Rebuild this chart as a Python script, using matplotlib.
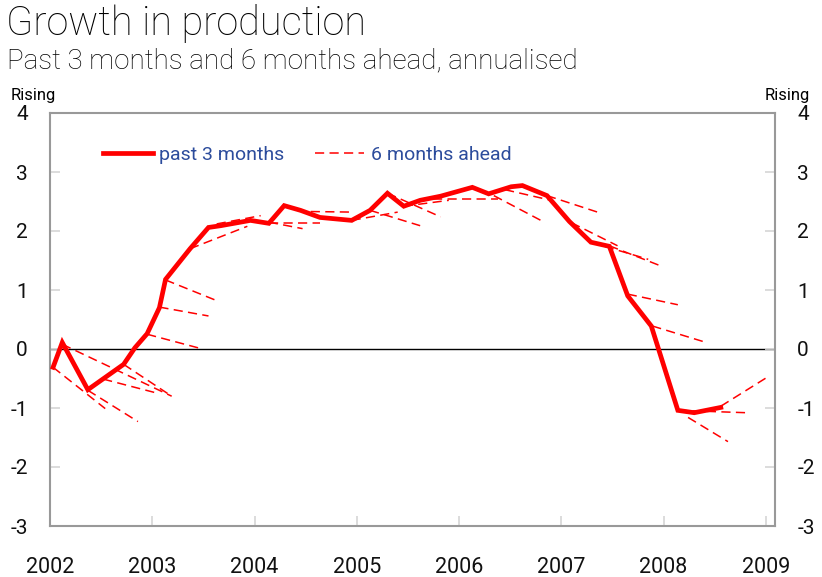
import matplotlib

matplotlib.use("Agg")
import matplotlib.pyplot as plt
from matplotlib.lines import Line2D

# past 3 months, annualised
PAST_YEAR = [
    2002.03, 2002.12, 2002.37, 2002.72, 2002.83, 2002.95, 2003.07, 2003.13,
    2003.37, 2003.55, 2003.67, 2003.96, 2004.14, 2004.29, 2004.45, 2004.64,
    2004.95, 2005.13, 2005.30, 2005.46, 2005.62, 2005.82, 2006.13, 2006.29,
    2006.51, 2006.62, 2006.86, 2007.08, 2007.29, 2007.47, 2007.65, 2007.88,
    2008.14, 2008.30, 2008.56,
]
PAST_VALUE = [
    -0.31, 0.11, -0.69, -0.26, 0.02, 0.26, 0.70, 1.18,
    1.70, 2.06, 2.09, 2.18, 2.13, 2.43, 2.35, 2.23,
    2.18, 2.35, 2.64, 2.42, 2.52, 2.59, 2.74, 2.63,
    2.75, 2.77, 2.60, 2.16, 1.81, 1.74, 0.90, 0.39,
    -1.04, -1.08, -0.99,
]

# 6 months ahead: one dashed segment per forecast, start -> end
AHEAD_START_YEAR = [
    2002.03, 2002.12, 2002.37, 2002.52, 2002.72, 2002.95, 2003.07, 2003.13,
    2003.37, 2003.63, 2004.14, 2004.14, 2004.55, 2004.95, 2005.13, 2005.30,
    2005.46, 2005.75, 2006.34, 2006.45, 2006.86, 2007.10, 2007.29, 2007.47,
    2007.65, 2007.89, 2008.14, 2008.24, 2008.56,
]
AHEAD_START_VALUE = [
    -0.31, 0.08, -0.70, -0.51, -0.26, 0.25, 0.71, 1.17,
    1.70, 2.12, 2.15, 2.14, 2.33, 2.18, 2.35, 2.64,
    2.42, 2.55, 2.60, 2.70, 2.60, 2.14, 1.81, 1.75,
    0.93, 0.39, -1.04, -1.16, -0.97,
]
AHEAD_END_YEAR = [
    2002.54, 2003.19, 2002.86, 2003.03, 2003.19, 2003.47, 2003.55, 2003.63,
    2003.93, 2004.06, 2004.47, 2004.64, 2004.97, 2005.40, 2005.62, 2005.82,
    2005.90, 2006.38, 2006.80, 2006.90, 2007.39, 2007.55, 2007.85, 2007.97,
    2008.14, 2008.40, 2008.81, 2008.63, 2009.04,
]
AHEAD_END_VALUE = [
    -1.01, -0.80, -1.23, -0.74, -0.80, 0.01, 0.56, 0.82,
    2.08, 2.26, 2.04, 2.14, 2.32, 2.32, 2.09, 2.24,
    2.52, 2.55, 2.18, 2.52, 2.30, 1.75, 1.52, 1.41,
    0.75, 0.12, -1.08, -1.57, -0.45,
]

YEARS = list(range(2002, 2010))
Y_TICKS = list(range(-3, 5))

RED = "#ff0000"
BLUE = "#2c4c9c"
GREY = "#999999"
TICK_GREY = "#d6d6d6"
DASHES = (6, 3.5)


def main() -> None:
    plt.rcParams["font.family"] = ["Roboto", "DejaVu Sans"]
    fig = plt.figure(figsize=(8.22, 5.77), dpi=100)
    ax = fig.add_axes((50 / 822, 51 / 577, 725 / 822, 413 / 577))

    for x0, y0, x1, y1 in zip(
        AHEAD_START_YEAR, AHEAD_START_VALUE, AHEAD_END_YEAR, AHEAD_END_VALUE
    ):
        ax.plot([x0, x1], [y0, y1], color=RED, lw=1.1, dashes=DASHES, zorder=2)
    ax.plot(PAST_YEAR, PAST_VALUE, color=RED, lw=3.4, zorder=3,
            solid_joinstyle="miter")
    ax.axhline(0, color="black", lw=1.0, zorder=1)

    ax.set_xlim(2002, 2009.09)
    ax.set_ylim(-3, 4)
    ax.set_xticks(YEARS)
    ax.set_xticklabels([str(y) for y in YEARS])
    ax.set_yticks(Y_TICKS)
    ax.set_yticklabels([str(v) for v in Y_TICKS])

    ax.tick_params(axis="x", direction="in", length=7, width=1.2,
                   color=TICK_GREY, labelsize=15.5, pad=22, labelcolor="#111111")
    ax.tick_params(axis="y", direction="in", length=7, width=1.2,
                   color=TICK_GREY, labelsize=15, pad=16, labelcolor="#111111",
                   right=True, labelright=True)
    for spine in ax.spines.values():
        spine.set_color(GREY)
        spine.set_linewidth(1.5)

    handles = [
        Line2D([0], [0], color=RED, lw=3.4, label="past 3 months"),
        Line2D([0], [0], color=RED, lw=1.1, dashes=DASHES,
               label="6 months ahead"),
    ]
    ax.legend(
        handles=handles,
        loc="center left",
        bbox_to_anchor=(0.073, 0.898),
        ncol=2,
        frameon=False,
        borderaxespad=0,
        borderpad=0,
        handlelength=2.55,
        handletextpad=0.35,
        columnspacing=1.55,
        fontsize=14,
        labelcolor=BLUE,
    )

    fig.text(6 / 822, 1 - 4 / 577, "Growth in production", fontsize=28.5,
             fontweight="light", va="top", ha="left")
    fig.text(7 / 822, 1 - 47 / 577,
             "Past 3 months and 6 months ahead, annualised", fontsize=20,
             fontweight="light", va="top", ha="left")
    fig.text(11 / 822, 1 - 88 / 577, "Rising", fontsize=12, va="top",
             ha="left")
    fig.text(810 / 822, 1 - 88 / 577, "Rising", fontsize=12, va="top",
             ha="right")

    fig.savefig("out.png", dpi=100)
    plt.close(fig)


if __name__ == "__main__":
    main()
